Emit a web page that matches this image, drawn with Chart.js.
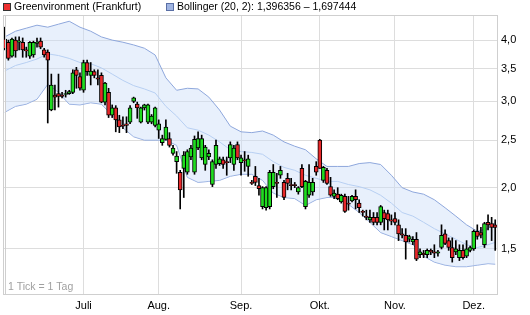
<!DOCTYPE html>
<html>
<head>
<meta charset="utf-8">
<script src="https://cdn.jsdelivr.net/npm/chart.js@4.4.0/dist/chart.umd.min.js"></script>
<style>
  html, body { margin: 0; padding: 0; background: #fff; }
  #wrap { width: 530px; height: 315px; }
</style>
</head>
<body>
<div id="wrap"><canvas id="kurs" width="530" height="315"></canvas></div>
<script>
// Tageskerzen Juni bis Dez., ein Wert pro Handelstag
const eroeffnung = [
  4.02, 3.96, 3.71, 4.00, 3.96, 3.96, 3.82, 3.71, 3.73, 3.94, 3.98, 3.82, 3.78, 2.88, 3.09, 3.11, 3.09, 3.10, 3.11, 3.13, 3.48, 3.37,
  3.16, 3.60, 3.39, 3.45, 3.35, 3.39, 2.99, 3.13, 2.81, 2.91, 2.75, 2.68, 2.70, 2.72, 3.00, 2.96, 2.72, 2.91, 2.72, 2.72, 2.68,
  2.62, 2.47, 2.51, 2.52, 2.35, 2.26, 2.15, 2.19, 2.15, 2.31, 2.15, 2.41, 2.30, 2.23, 2.31, 2.03, 2.23, 2.24, 2.28, 2.26, 2.30, 2.23, 2.45,
  2.25, 2.28, 2.21, 2.05, 2.11, 2.02, 1.83, 1.82, 1.83, 2.01, 2.05, 2.12, 2.05, 2.09, 2.03, 2.03, 1.96, 2.19, 1.83, 1.93, 1.96, 2.21,
  2.50, 2.07, 2.17, 2.01, 1.92, 1.94, 1.87, 1.92, 1.86, 1.88, 1.92, 1.86, 1.79, 1.75, 1.72, 1.74, 1.74, 1.70, 1.78, 1.77, 1.72,
  1.73, 1.68, 1.61, 1.60, 1.57, 1.55, 1.57, 1.46, 1.47, 1.46, 1.49, 1.48, 1.47, 1.51, 1.61, 1.56, 1.51, 1.48, 1.44, 1.49, 1.45, 1.49,
  1.50, 1.63, 1.62, 1.53, 1.70, 1.69, 1.68
];
const hoch = [
  4.25, 4.00, 4.04, 4.06, 4.06, 4.04, 3.87, 3.97, 3.98, 4.04, 4.04, 3.85, 3.82, 3.41, 3.24, 3.41, 3.13, 3.16, 3.16, 3.48, 3.52, 3.43,
  3.64, 3.64, 3.60, 3.48, 3.48, 3.43, 3.28, 3.19, 2.95, 2.94, 2.81, 2.79, 2.79, 2.94, 3.06, 2.99, 2.92, 2.96, 2.96, 2.82, 2.92,
  2.75, 2.56, 2.75, 2.59, 2.44, 2.37, 2.17, 2.37, 2.39, 2.44, 2.55, 2.60, 2.56, 2.44, 2.39, 2.28, 2.50, 2.31, 2.31, 2.31, 2.48, 2.44, 2.48,
  2.33, 2.37, 2.33, 2.07, 2.21, 2.09, 2.01, 2.01, 2.17, 2.23, 2.14, 2.21, 2.07, 2.14, 2.09, 2.05, 2.01, 2.23, 2.07, 2.23, 2.09, 2.26,
  2.51, 2.21, 2.19, 2.10, 1.98, 2.00, 1.94, 1.94, 1.92, 1.93, 1.98, 1.89, 1.80, 1.80, 1.80, 1.78, 1.78, 1.84, 1.80, 1.80, 1.76,
  1.78, 1.72, 1.65, 1.65, 1.60, 1.59, 1.62, 1.50, 1.49, 1.50, 1.50, 1.53, 1.49, 1.68, 1.64, 1.58, 1.58, 1.56, 1.53, 1.53, 1.56, 1.52,
  1.64, 1.68, 1.66, 1.70, 1.76, 1.74, 1.72
];
const tief = [
  3.82, 3.64, 3.69, 3.69, 3.82, 3.69, 3.69, 3.67, 3.69, 3.87, 3.84, 3.69, 2.71, 2.87, 2.88, 2.92, 3.05, 3.06, 3.10, 3.11, 3.19, 3.16,
  3.13, 3.39, 3.24, 3.35, 3.24, 2.98, 2.95, 2.78, 2.78, 2.60, 2.59, 2.64, 2.59, 2.70, 2.98, 2.77, 2.71, 2.88, 2.70, 2.70, 2.66,
  2.52, 2.44, 2.50, 2.42, 2.33, 2.14, 1.81, 1.91, 2.13, 2.28, 2.13, 2.39, 2.28, 2.17, 2.28, 2.01, 2.19, 2.22, 2.19, 2.12, 2.25, 2.17, 2.28,
  2.12, 2.16, 2.11, 2.03, 2.02, 1.93, 1.81, 1.80, 1.81, 1.99, 1.91, 2.09, 1.89, 1.98, 1.98, 2.00, 1.94, 2.00, 1.81, 1.91, 1.93, 2.12,
  2.19, 2.05, 2.03, 1.92, 1.90, 1.89, 1.86, 1.78, 1.80, 1.87, 1.81, 1.78, 1.75, 1.72, 1.70, 1.68, 1.68, 1.68, 1.64, 1.64, 1.68,
  1.68, 1.56, 1.58, 1.43, 1.55, 1.53, 1.42, 1.44, 1.44, 1.44, 1.46, 1.44, 1.45, 1.50, 1.53, 1.49, 1.41, 1.46, 1.42, 1.43, 1.44, 1.48,
  1.49, 1.57, 1.58, 1.51, 1.64, 1.56, 1.49
];
const schluss = [
  3.84, 3.67, 4.02, 3.80, 3.98, 3.82, 3.80, 3.96, 3.96, 3.96, 3.87, 3.73, 3.64, 3.24, 3.06, 3.07, 3.07, 3.11, 3.14, 3.43, 3.39, 3.19,
  3.60, 3.45, 3.46, 3.39, 3.33, 2.99, 3.27, 2.81, 2.91, 2.75, 2.66, 2.67, 2.68, 2.91, 3.05, 2.91, 2.91, 2.95, 2.95, 2.80, 2.91,
  2.70, 2.52, 2.66, 2.44, 2.41, 2.32, 1.98, 2.33, 2.37, 2.41, 2.51, 2.52, 2.52, 2.42, 2.35, 2.26, 2.44, 2.29, 2.23, 2.25, 2.45, 2.41, 2.30,
  2.30, 2.27, 2.29, 2.04, 2.05, 1.99, 2.00, 2.00, 2.15, 2.15, 2.04, 2.17, 1.91, 2.04, 2.02, 2.02, 2.00, 2.01, 2.06, 2.05, 2.05, 2.15,
  2.19, 2.20, 2.04, 1.93, 1.95, 1.90, 1.93, 1.79, 1.85, 1.92, 1.89, 1.82, 1.78, 1.74, 1.74, 1.70, 1.70, 1.83, 1.73, 1.72, 1.71,
  1.70, 1.61, 1.60, 1.55, 1.59, 1.57, 1.43, 1.48, 1.46, 1.49, 1.48, 1.47, 1.48, 1.60, 1.54, 1.51, 1.44, 1.50, 1.49, 1.44, 1.50, 1.51,
  1.63, 1.59, 1.60, 1.69, 1.68, 1.66, 1.66
];

const bandTage = [
  0, 3, 6, 9, 12, 15, 18, 21, 24, 27, 30, 33, 36, 39, 42, 45, 48, 51, 54, 57, 60, 63, 66, 69,
  72, 75, 78, 81, 84, 87, 90, 93, 96, 99, 102, 105, 108, 111, 114, 117, 120, 123, 126, 129, 132, 135, 137
];
const bandOben = [
  4.06, 4.17, 4.23, 4.29, 4.25, 4.31, 4.37, 4.25, 4.17, 4.06, 4.00, 3.96, 3.91, 3.85, 3.73, 3.35, 3.16, 3.19, 3.18, 3.06, 2.88, 2.67, 2.60, 2.59,
  2.61, 2.56, 2.48, 2.43, 2.39, 2.29, 2.21, 2.21, 2.21, 2.24, 2.25, 2.23, 2.12, 2.00, 1.96, 1.94, 1.89, 1.82, 1.75, 1.68, 1.63, 1.65, 1.697444
];
const bandMitte = [
  3.46, 3.55, 3.60, 3.66, 3.75, 3.72, 3.67, 3.60, 3.58, 3.51, 3.41, 3.31, 3.23, 3.18, 3.12, 2.93, 2.80, 2.65, 2.62, 2.56, 2.48, 2.39, 2.37, 2.36,
  2.34, 2.26, 2.20, 2.17, 2.12, 2.09, 2.06, 2.06, 2.03, 2.01, 1.98, 1.93, 1.86, 1.78, 1.75, 1.70, 1.65, 1.61, 1.57, 1.53, 1.51, 1.53, 1.5469
];
const bandUnten = [
  2.85, 2.93, 2.96, 3.03, 3.25, 3.13, 2.96, 2.95, 2.98, 2.96, 2.81, 2.65, 2.54, 2.50, 2.50, 2.50, 2.44, 2.10, 2.05, 2.06, 2.07, 2.11, 2.13, 2.13,
  2.07, 1.95, 1.91, 1.90, 1.84, 1.89, 1.91, 1.91, 1.85, 1.78, 1.70, 1.62, 1.59, 1.56, 1.53, 1.45, 1.41, 1.39, 1.38, 1.38, 1.39, 1.40, 1.396356
];

// Achsen
const monatsTicks = [22, 43, 66, 88, 109, 131];
const monatsNamen = ['Juli', 'Aug.', 'Sep.', 'Okt.', 'Nov.', 'Dez.'];
const kursTicks = [1.5, 2.0, 2.5, 3.0, 3.5, 4.0];

const schrift = '"Liberation Sans", Arial, sans-serif';

function komma(v, stellen) {
  return v.toFixed(stellen).replace('.', ',');
}

const koerper = schluss.map((c, i) => ({ x: i, y: [eroeffnung[i], c] }));
const dochte = hoch.map((h, i) => ({ x: i, y: [tief[i], h] }));
const kerzenFarben = schluss.map((c, i) => (c >= eroeffnung[i] ? '#1fdc1f' : '#e8282a'));
const band = (werte) => bandTage.map((t, k) => ({ x: t, y: werte[k] }));

const legende = [
  { text: 'Greenvironment (Frankfurt)', farbe: '#ee3030', rand: '#333333', x: 3 },
  {
    text: 'Bollinger (20, 2): ' + komma(bandUnten[bandUnten.length - 1], 6) + ' – ' + komma(bandOben[bandOben.length - 1], 6),
    farbe: '#9fb4e2', rand: '#5a6fa5', x: 166
  }
];

const extras = {
  id: 'extras',
  afterDraw(chart) {
    const { ctx, chartArea: a } = chart;
    ctx.save();
    // Rahmen oben und links (doppelt wie im Original)
    ctx.strokeStyle = '#cfcfcf';
    ctx.lineWidth = 1;
    ctx.beginPath();
    ctx.moveTo(a.left, a.top + 0.5);
    ctx.lineTo(a.right, a.top + 0.5);
    ctx.moveTo(a.left + 0.5, a.top);
    ctx.lineTo(a.left + 0.5, a.bottom);
    ctx.moveTo(a.left + 2.5, a.top);
    ctx.lineTo(a.left + 2.5, a.bottom);
    ctx.stroke();

    ctx.font = '10.5px ' + schrift;
    ctx.textBaseline = 'middle';
    ctx.textAlign = 'left';
    ctx.fillStyle = '#a0a0a0';
    ctx.fillText('1 Tick = 1 Tag', a.left + 5, a.bottom - 7);

    // Legende
    legende.forEach((e) => {
      ctx.fillStyle = e.farbe;
      ctx.fillRect(e.x, 3, 8, 8);
      ctx.strokeStyle = e.rand;
      ctx.strokeRect(e.x + 0.5, 3.5, 7, 7);
      ctx.fillStyle = '#000';
      ctx.fillText(e.text, e.x + 11, 7.5);
    });
    ctx.restore();
  }
};

new Chart(document.getElementById('kurs'), {
  type: 'bar',
  data: {
    datasets: [
      {
        label: 'Koerper',
        data: koerper,
        backgroundColor: kerzenFarben,
        borderColor: '#000',
        borderWidth: 1,
        borderSkipped: false,
        barThickness: 4,
        grouped: false,
        order: 0
      },
      {
        label: 'Dochte',
        data: dochte,
        backgroundColor: '#000',
        borderWidth: 0,
        barThickness: 1,
        grouped: false,
        order: 1
      },
      {
        type: 'line',
        label: 'Oberes Band',
        data: band(bandOben),
        borderColor: '#8ea7dc',
        borderWidth: 1,
        backgroundColor: 'rgba(205,222,248,0.45)',
        fill: '+1',
        pointRadius: 0,
        tension: 0,
        order: 3
      },
      {
        type: 'line',
        label: 'Unteres Band',
        data: band(bandUnten),
        borderColor: '#8ea7dc',
        borderWidth: 1,
        fill: false,
        pointRadius: 0,
        tension: 0,
        order: 4
      },
      {
        type: 'line',
        label: 'Mitte',
        data: band(bandMitte),
        borderColor: '#b7cff2',
        borderWidth: 1,
        fill: false,
        pointRadius: 0,
        tension: 0,
        order: 2
      }
    ]
  },
  options: {
    responsive: false,
    animation: false,
    events: [],
    layout: { padding: { left: 3, top: 15, right: 0, bottom: 0 } },
    plugins: {
      legend: { display: false },
      tooltip: { enabled: false }
    },
    scales: {
      x: {
        type: 'linear',
        min: -0.5,
        max: 137.5,
        offset: false,
        afterBuildTicks: (s) => { s.ticks = monatsTicks.map((v) => ({ value: v })); },
        afterFit: (s) => { s.height = 21; },
        grid: { color: '#dddddd', drawTicks: false, offset: false },
        border: { color: '#cfcfcf' },
        ticks: {
          padding: 5,
          color: '#000',
          font: { family: schrift, size: 11 },
          maxRotation: 0,
          autoSkip: false,
          callback: (v) => monatsNamen[monatsTicks.indexOf(v)] || ''
        }
      },
      y: {
        type: 'logarithmic',
        position: 'right',
        min: 1.214,
        max: 4.5,
        afterBuildTicks: (s) => { s.ticks = kursTicks.map((v) => ({ value: v })); },
        afterFit: (s) => { s.width = 33; },
        grid: { color: '#dddddd', drawTicks: false },
        border: { color: '#cfcfcf' },
        ticks: {
          padding: 4,
          color: '#000',
          font: { family: schrift, size: 11 },
          callback: (v) => komma(v, 1)
        }
      }
    }
  },
  plugins: [extras]
});
</script>
</body>
</html>
